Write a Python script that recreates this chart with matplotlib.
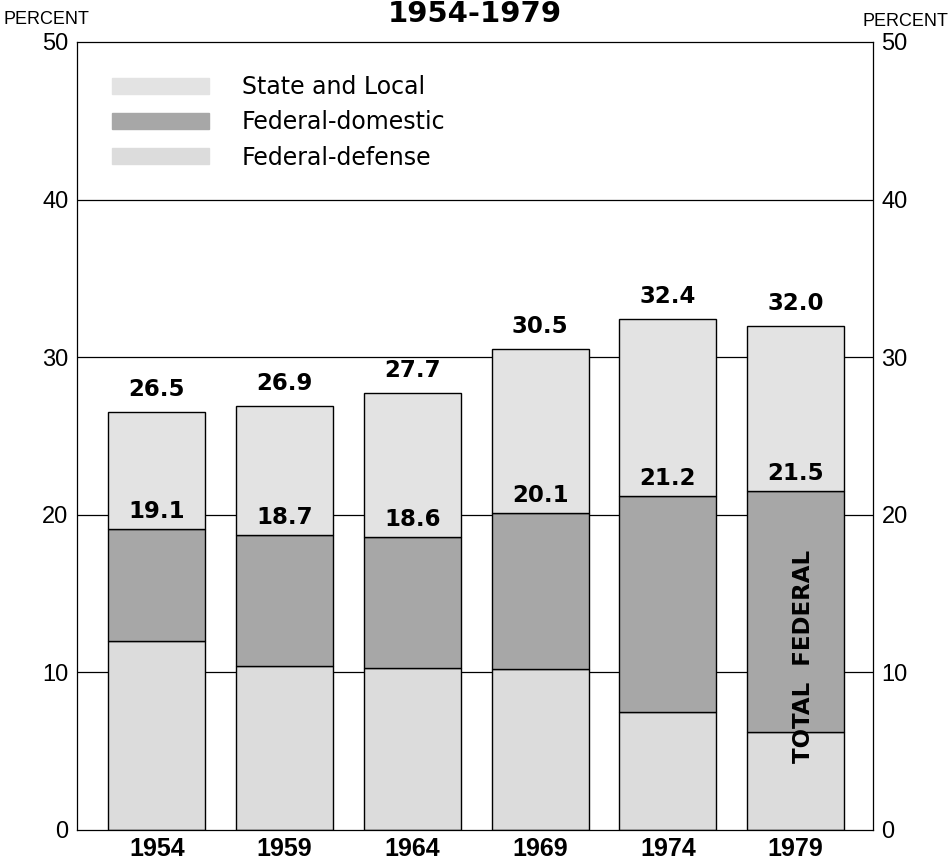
import numpy as np
import matplotlib
matplotlib.use("Agg")
import matplotlib.pyplot as plt
import matplotlib.patches as mpatches

# ---------------------------------------------------------------------------
# Data (percent)
# ---------------------------------------------------------------------------
years = ["1954", "1959", "1964", "1969", "1974", "1979"]
defense = [12.0, 10.4, 10.3, 10.2, 7.5, 6.2]
total_federal = [19.1, 18.7, 18.6, 20.1, 21.2, 21.5]
total = [26.5, 26.9, 27.7, 30.5, 32.4, 32.0]

domestic = [f - d for f, d in zip(total_federal, defense)]
state_local = [t - f for t, f in zip(total, total_federal)]

C_STATE = "#e3e3e3"
C_DOM = "#a7a7a7"
C_DEF = "#dcdcdc"

BOLD = ["DejaVu Sans"]
plt.rcParams["font.family"] = ["Liberation Sans", "DejaVu Sans"]

fig = plt.figure(figsize=(9.5, 8.66), dpi=100)
ax = fig.add_axes([0.081, 0.0416, 0.838, 0.91])

x = np.arange(len(years))
w = 0.76

# gridlines behind bars
for v in [10, 20, 30, 40]:
    ax.axhline(v, color="black", lw=0.9, zorder=0)

ax.bar(x, defense, w, color=C_DEF, edgecolor="black", lw=1.0, zorder=2)
ax.bar(x, domestic, w, bottom=defense, color=C_DOM, edgecolor="black", lw=1.0, zorder=2)
ax.bar(x, state_local, w, bottom=total_federal, color=C_STATE, edgecolor="black", lw=1.0, zorder=2)

for xi, f, t in zip(x, total_federal, total):
    ax.text(xi, f + 0.4, f"{f:.1f}", ha="center", va="bottom", fontsize=16.5,
            fontweight="bold", family=BOLD, zorder=3)
    ax.text(xi, t + 0.7, f"{t:.1f}", ha="center", va="bottom", fontsize=16.5,
            fontweight="bold", family=BOLD, zorder=3)

ax.text(x[-1] + 0.06, 11.0, "TOTAL  FEDERAL", rotation=90, ha="center", va="center",
        fontsize=16.5, fontweight="bold", family=BOLD, zorder=3)

ax.set_xlim(-0.626, 5.607)
ax.set_ylim(0, 50)
ax.set_yticks([0, 10, 20, 30, 40, 50])
ax.tick_params(axis="y", length=0, pad=6, labelsize=17, labelleft=True, labelright=True)
ax.set_xticks(x)
ax.set_xticklabels(years, fontsize=18, fontweight="bold")
ax.tick_params(axis="x", length=0, pad=5)
for s in ax.spines.values():
    s.set_linewidth(0.9)

fig.text(0.004, 0.987, "PERCENT", ha="left", va="top", fontsize=13)
fig.text(0.998, 0.985, "PERCENT", ha="right", va="top", fontsize=13)
fig.text(0.5, 0.984, "1954-1979", ha="center", va="center", fontsize=21,
         fontweight="bold", family=BOLD)

handles = [mpatches.Patch(color=C_STATE, label="State and Local"),
           mpatches.Patch(color=C_DOM, label="Federal-domestic"),
           mpatches.Patch(color=C_DEF, label="Federal-defense")]
ax.legend(handles=handles, loc="upper left", bbox_to_anchor=(0.017, 0.985),
          frameon=False, handlelength=4.1, handleheight=0.65,
          handletextpad=1.4, labelspacing=0.48,
          prop={"family": ["DejaVu Sans"], "size": 17})

fig.savefig("out.png", dpi=100)
